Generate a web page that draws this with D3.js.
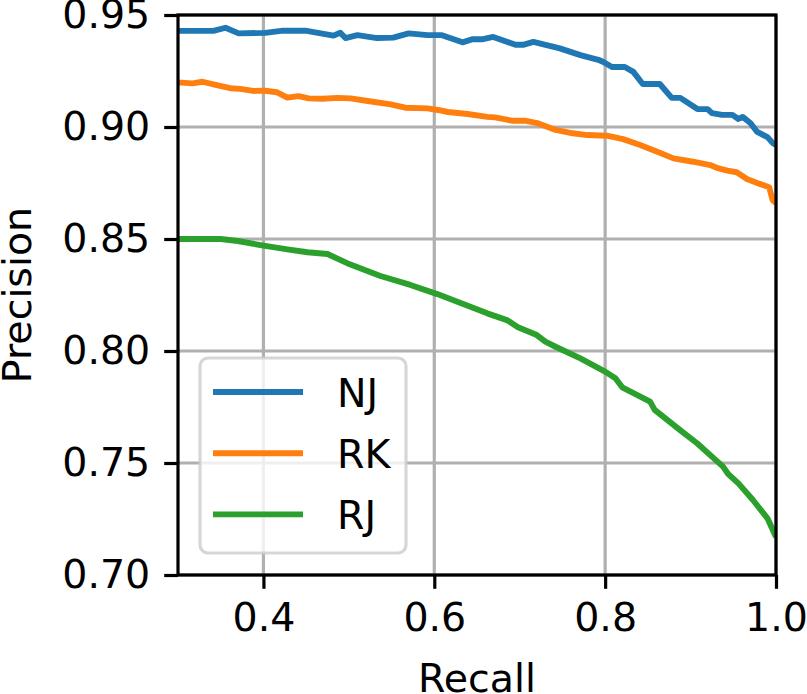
<!DOCTYPE html>
<html>
<head>
<meta charset="utf-8">
<script src="https://cdn.jsdelivr.net/npm/d3@7"></script>
<style>
  body { margin: 0; background: #fff; }
  text { font-family: "DejaVu Sans", sans-serif; }
</style>
</head>
<body>
<div id="container"></div>
<script>
// series names + colours
const seriesNames = ["NJ", "RK", "RJ"];
const seriesColors = ["#1f77b4", "#ff7f0e", "#2ca02c"];

// recall / precision
const njRecall = [0.30, 0.304, 0.3415, 0.3556, 0.371, 0.402, 0.423, 0.449, 0.482, 0.490, 0.496, 0.510, 0.533, 0.552, 0.570, 0.592, 0.609, 0.633, 0.645, 0.657, 0.669, 0.695, 0.704, 0.716, 0.747, 0.771, 0.792, 0.798, 0.808, 0.823, 0.833, 0.844, 0.864, 0.878, 0.888, 0.908, 0.920, 0.925, 0.937, 0.949, 0.956, 0.961, 0.970, 0.978, 0.990, 0.996, 1.0];
const njPrecision = [0.9429, 0.9429, 0.9429, 0.9443, 0.9418, 0.942, 0.943, 0.943, 0.9408, 0.9421, 0.9397, 0.941, 0.9397, 0.9399, 0.9418, 0.941, 0.941, 0.9378, 0.9392, 0.9392, 0.9402, 0.9367, 0.9367, 0.938, 0.9351, 0.9321, 0.930, 0.929, 0.9268, 0.9268, 0.9246, 0.9192, 0.9192, 0.913, 0.913, 0.908, 0.908, 0.9062, 0.9054, 0.9054, 0.9036, 0.9045, 0.9018, 0.8978, 0.8955, 0.8929, 0.892];

const rkRecall = [0.30, 0.304, 0.317, 0.3287, 0.344, 0.361, 0.373, 0.388, 0.402, 0.416, 0.428, 0.441, 0.453, 0.469, 0.487, 0.502, 0.522, 0.549, 0.566, 0.592, 0.604, 0.616, 0.639, 0.662, 0.671, 0.691, 0.706, 0.722, 0.742, 0.762, 0.779, 0.802, 0.821, 0.841, 0.861, 0.880, 0.903, 0.923, 0.932, 0.943, 0.954, 0.966, 0.981, 0.992, 0.996, 1.0];
const rkPrecision = [0.9198, 0.9198, 0.9195, 0.9202, 0.9188, 0.9173, 0.917, 0.9161, 0.9162, 0.9155, 0.9131, 0.9138, 0.9128, 0.9126, 0.913, 0.9128, 0.9116, 0.9101, 0.9086, 0.9083, 0.9076, 0.9067, 0.9058, 0.9045, 0.9043, 0.9028, 0.9028, 0.9016, 0.8987, 0.8972, 0.8964, 0.8961, 0.8946, 0.892, 0.889, 0.886, 0.8845, 0.883, 0.8816, 0.8805, 0.8798, 0.8768, 0.8746, 0.8731, 0.8674, 0.866];

const rjRecall = [0.30, 0.304, 0.350, 0.370, 0.3965, 0.428, 0.4515, 0.475, 0.498, 0.537, 0.572, 0.6035, 0.627, 0.662, 0.685, 0.698, 0.720, 0.730, 0.742, 0.771, 0.800, 0.812, 0.820, 0.8526, 0.858, 0.890, 0.9076, 0.938, 0.944, 0.956, 0.973, 0.990, 1.0];
const rjPrecision = [0.850, 0.850, 0.850, 0.8491, 0.8473, 0.8454, 0.8441, 0.8433, 0.8392, 0.8335, 0.8295, 0.8254, 0.822, 0.8168, 0.8138, 0.8106, 0.8071, 0.8042, 0.8019, 0.7967, 0.7908, 0.7878, 0.7838, 0.7774, 0.7737, 0.764, 0.7588, 0.7484, 0.7451, 0.7409, 0.7335, 0.7253, 0.717];

const xTicks = [0.4, 0.6, 0.8, 1.0];
const yTicks = [0.70, 0.75, 0.80, 0.85, 0.90, 0.95];

const series = [
  {name: seriesNames[0], color: seriesColors[0], xs: njRecall, ys: njPrecision},
  {name: seriesNames[1], color: seriesColors[1], xs: rkRecall, ys: rkPrecision},
  {name: seriesNames[2], color: seriesColors[2], xs: rjRecall, ys: rjPrecision}
];

const margin = {top: 15, right: 31, bottom: 119, left: 178},
      width = 807 - margin.left - margin.right,
      height = 694 - margin.top - margin.bottom;

const svg = d3.select("#container").append("svg")
  .attr("width", 807)
  .attr("height", 694);

const chart = svg.append("g")
  .attr("transform", `translate(${margin.left},${margin.top})`);

const x = d3.scaleLinear().domain([0.3, 1.0]).range([0, width]);
const y = d3.scaleLinear().domain([0.70, 0.95]).range([height, 0]);

const fontSize = 39.5;

// grid lines
chart.append("g")
  .selectAll("line")
  .data(xTicks)
  .join("line")
  .attr("x1", d => x(d)).attr("x2", d => x(d))
  .attr("y1", 0).attr("y2", height)
  .attr("stroke", "#b0b0b0")
  .attr("stroke-width", 3.2);

chart.append("g")
  .selectAll("line")
  .data(yTicks)
  .join("line")
  .attr("x1", 0).attr("x2", width)
  .attr("y1", d => y(d)).attr("y2", d => y(d))
  .attr("stroke", "#b0b0b0")
  .attr("stroke-width", 3.2);

// clip so lines stay in the axes box
chart.append("clipPath").attr("id", "clip")
  .append("rect").attr("width", width).attr("height", height);

const line = d3.line()
  .x(d => x(d[0]))
  .y(d => y(d[1]));

chart.append("g")
  .attr("clip-path", "url(#clip)")
  .selectAll("path")
  .data(series)
  .join("path")
  .attr("fill", "none")
  .attr("stroke", d => d.color)
  .attr("stroke-width", 5.9)
  .attr("stroke-linejoin", "round")
  .attr("d", d => line(d.xs.map((v, i) => [v, d.ys[i]])));

// axes (matplotlib-ish: ticks outside, long)
const xAxis = chart.append("g")
  .attr("transform", `translate(0,${height})`)
  .call(d3.axisBottom(x).tickValues(xTicks).tickFormat(d3.format(".1f")).tickSize(13.8).tickPadding(14));
const yAxis = chart.append("g")
  .call(d3.axisLeft(y).tickValues(yTicks).tickFormat(d3.format(".2f")).tickSize(13.8).tickPadding(14));

[xAxis, yAxis].forEach(g => {
  g.select(".domain").remove();
  g.selectAll(".tick line").attr("stroke", "#000").attr("stroke-width", 3.2);
  g.selectAll(".tick text")
    .attr("fill", "#000")
    .style("font-family", "DejaVu Sans")
    .style("font-size", fontSize + "px");
});

// spines
chart.append("rect")
  .attr("width", width).attr("height", height)
  .attr("fill", "none")
  .attr("stroke", "#000")
  .attr("stroke-width", 3.2);

// axis titles
chart.append("text")
  .attr("x", width / 2)
  .attr("y", height + 117)
  .attr("text-anchor", "middle")
  .style("font-size", fontSize + "px")
  .text("Recall");

chart.append("text")
  .attr("transform", "rotate(-90)")
  .attr("x", -height / 2)
  .attr("y", -margin.left + 31)
  .attr("text-anchor", "middle")
  .style("font-size", fontSize + "px")
  .text("Precision");

// legend
const legend = chart.append("g")
  .attr("transform", `translate(${200 - margin.left},${358 - margin.top})`);

legend.append("rect")
  .attr("width", 206).attr("height", 195)
  .attr("rx", 8).attr("ry", 8)
  .attr("fill", "#fff").attr("fill-opacity", 0.8)
  .attr("stroke", "#cccccc").attr("stroke-opacity", 0.8)
  .attr("stroke-width", 3.2);

const legendRow = legend.selectAll("g.row")
  .data(series)
  .join("g")
  .attr("class", "row")
  .attr("transform", (d, i) => `translate(0,${34 + i * 61.2})`);

legendRow.append("line")
  .attr("x1", 13).attr("x2", 103)
  .attr("stroke", d => d.color)
  .attr("stroke-width", 5.9);

legendRow.append("text")
  .attr("x", 137)
  .attr("y", 14.5)
  .style("font-size", fontSize + "px")
  .text(d => d.name);
</script>
</body>
</html>
